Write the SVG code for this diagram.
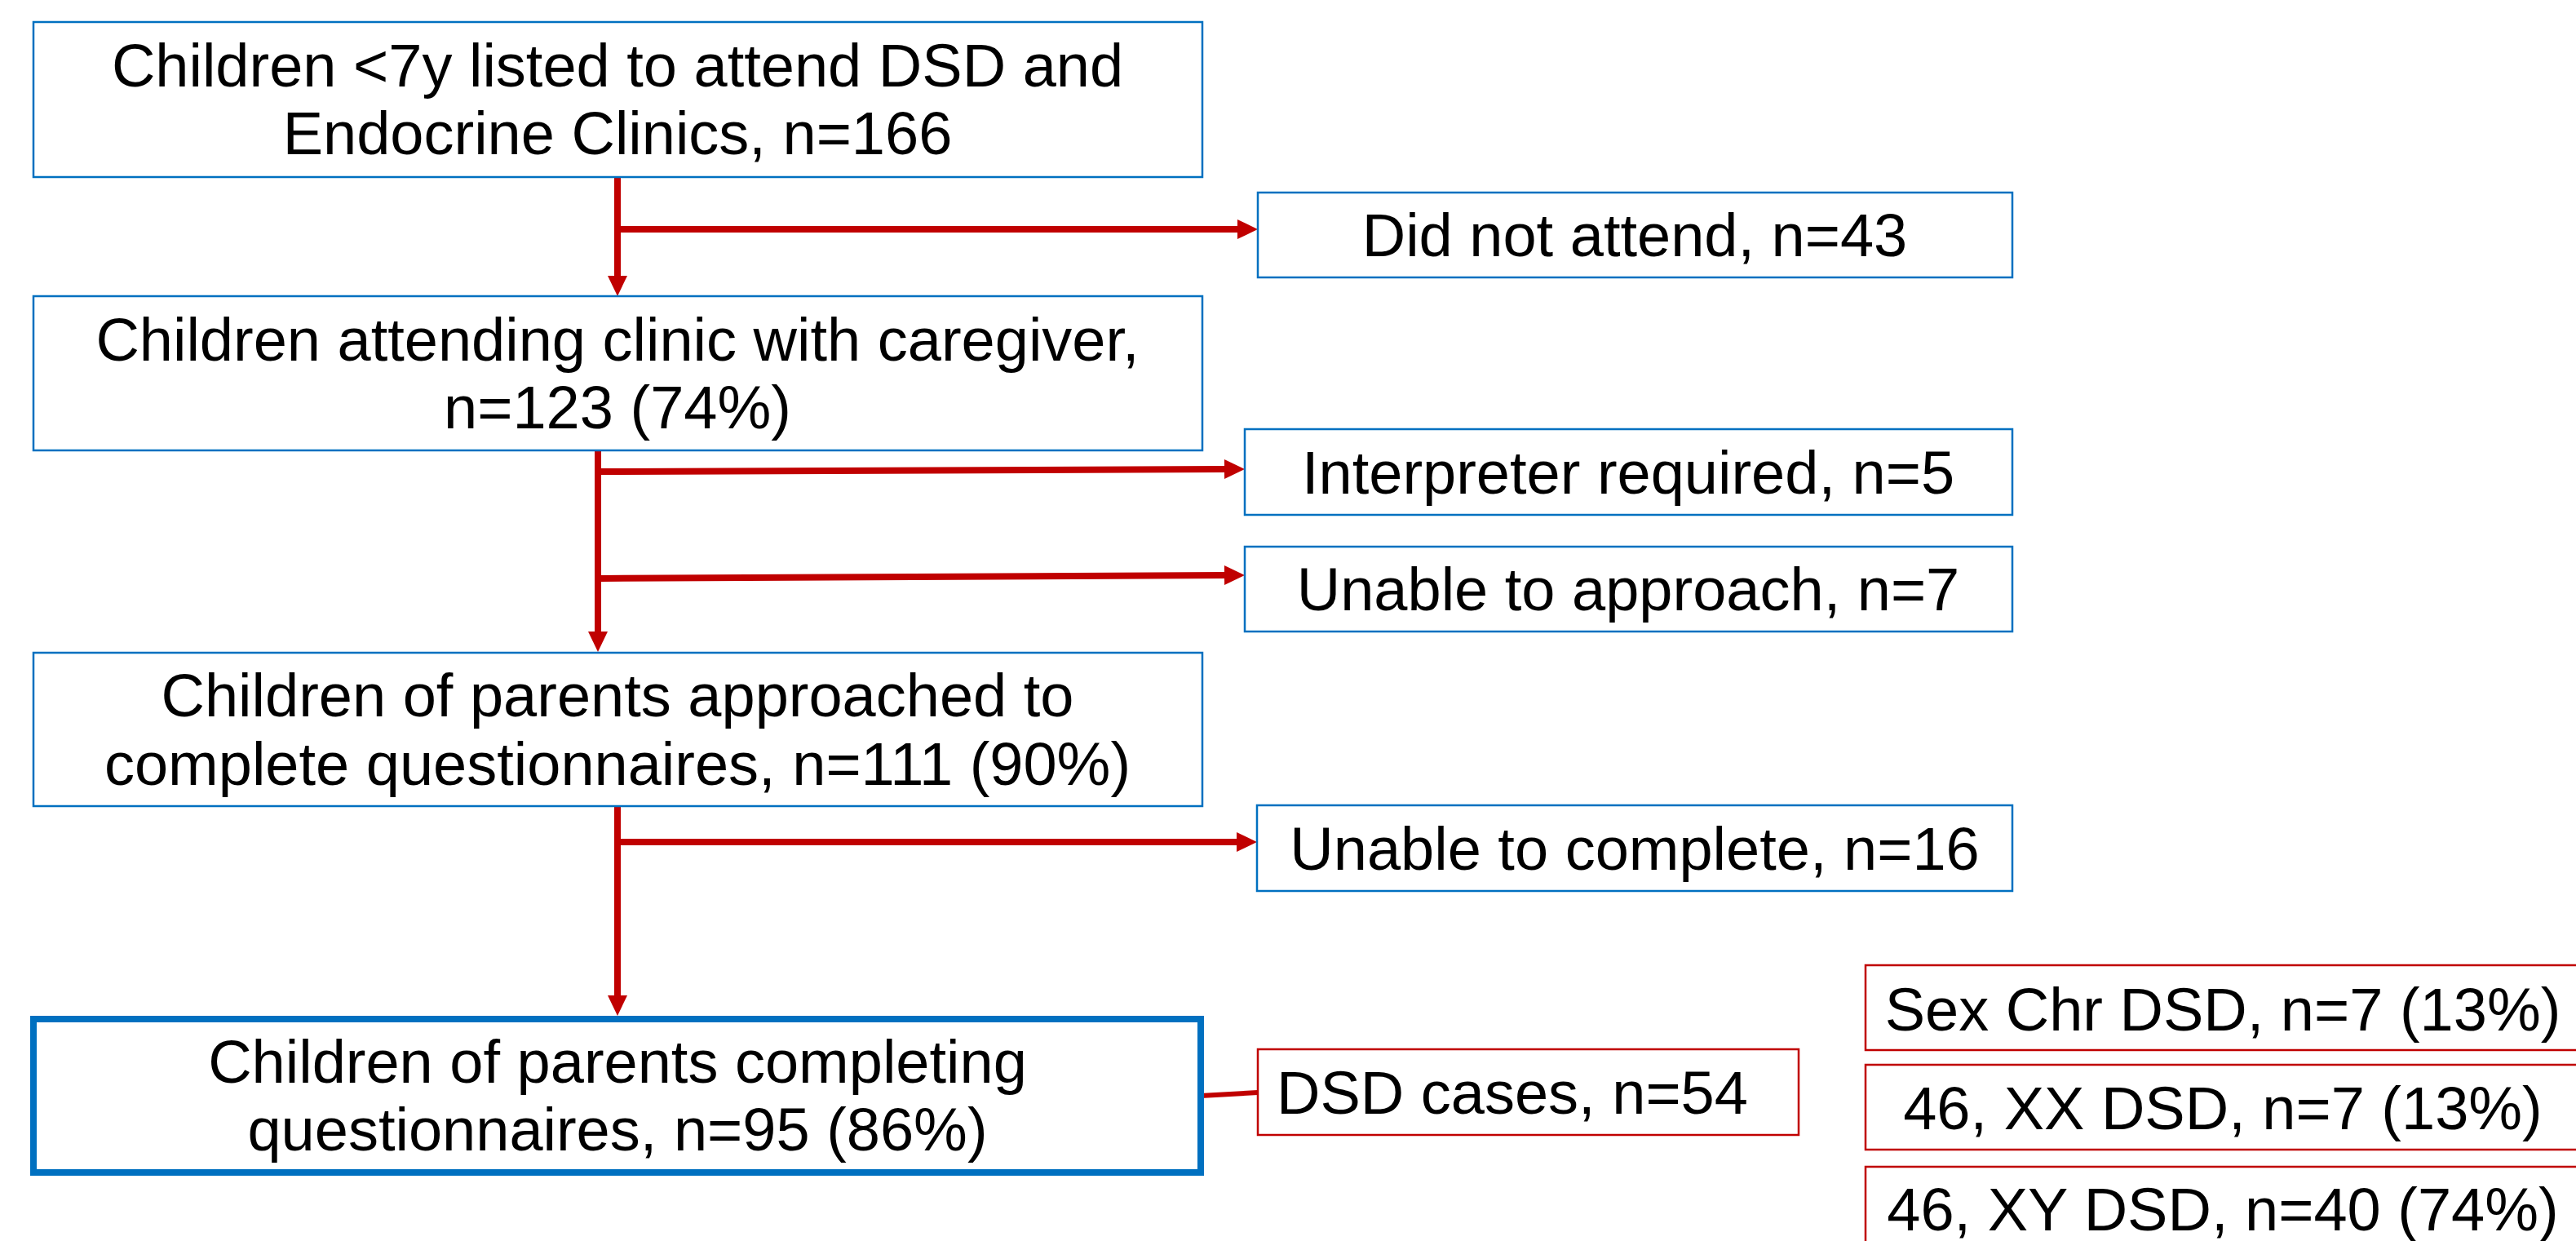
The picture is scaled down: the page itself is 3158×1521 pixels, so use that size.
<svg xmlns="http://www.w3.org/2000/svg" width="3158" height="1521" viewBox="0 0 3158 1521">
<style>
.bb{fill:#fff;stroke:#0070C0;stroke-width:2.5}
.bk{fill:#fff;stroke:#0070C0;stroke-width:8}
.rb{fill:#fff;stroke:#C00000;stroke-width:2.5}
.t{font-family:"Liberation Sans",Arial,sans-serif;font-size:74px;fill:#000;text-anchor:middle}
.c{stroke:#C00000;stroke-width:8;fill:none}
</style>
<defs>
<marker id="ah" markerUnits="userSpaceOnUse" markerWidth="25" markerHeight="24" refX="2" refY="12" orient="auto" overflow="visible">
<path d="M0,0 L25,12 L0,24 z" fill="#C00000"/>
</marker>
</defs>
<rect width="3158" height="1521" fill="#fff"/>
<g id="connectors">
<line class="c" x1="757" y1="217" x2="757" y2="340" marker-end="url(#ah)"/>
<line class="c" x1="757" y1="281" x2="1519" y2="281" marker-end="url(#ah)"/>
<line class="c" x1="733" y1="552" x2="733" y2="776" marker-end="url(#ah)"/>
<line class="c" x1="737" y1="578" x2="1503" y2="575" marker-end="url(#ah)"/>
<line class="c" x1="737" y1="709" x2="1503" y2="705" marker-end="url(#ah)"/>
<line class="c" x1="757" y1="988" x2="757" y2="1222" marker-end="url(#ah)"/>
<line class="c" x1="757" y1="1032" x2="1518" y2="1032" marker-end="url(#ah)"/>
<line stroke="#C00000" stroke-width="6" x1="1472" y1="1343" x2="1542" y2="1339"/>
</g>
<g id="n1">
<rect class="bb" x="41" y="27" width="1433" height="190"/>
<text class="t" x="757" y="106">Children &lt;7y listed to attend DSD and</text>
<text class="t" x="757" y="189">Endocrine Clinics, n=166</text>
</g>
<g id="n2">
<rect class="bb" x="1542" y="236" width="925" height="104"/>
<text class="t" x="2004" y="314">Did not attend, n=43</text>
</g>
<g id="n3">
<rect class="bb" x="41" y="363" width="1433" height="189"/>
<text class="t" x="757" y="442">Children attending clinic with caregiver,</text>
<text class="t" x="757" y="525">n=123 (74%)</text>
</g>
<g id="n4">
<rect class="bb" x="1526" y="526" width="941" height="105"/>
<text class="t" x="1996" y="605">Interpreter required, n=5</text>
</g>
<g id="n5">
<rect class="bb" x="1526" y="670" width="941" height="104"/>
<text class="t" x="1996" y="748">Unable to approach, n=7</text>
</g>
<g id="n6">
<rect class="bb" x="41" y="800" width="1433" height="188"/>
<text class="t" x="757" y="878">Children of parents approached to</text>
<text class="t" x="757" y="962">complete questionnaires, n=111 (90%)</text>
</g>
<g id="n7">
<rect class="bb" x="1541" y="987" width="926" height="105"/>
<text class="t" x="2004" y="1066">Unable to complete, n=16</text>
</g>
<g id="n8">
<rect class="bk" x="41" y="1249" width="1431" height="188"/>
<text class="t" x="757" y="1327">Children of parents completing</text>
<text class="t" x="757" y="1410">questionnaires, n=95 (86%)</text>
</g>
<g id="n9">
<rect class="rb" x="1542" y="1286" width="663" height="105"/>
<text class="t" x="1565" y="1365" style="text-anchor:start">DSD cases, n=54</text>
</g>
<g id="n10">
<rect class="rb" x="2287" y="1183" width="877" height="104"/>
<text class="t" x="2725" y="1263">Sex Chr DSD, n=7 (13%)</text>
</g>
<g id="n11">
<rect class="rb" x="2287" y="1305" width="877" height="104"/>
<text class="t" x="2725" y="1384">46, XX DSD, n=7 (13%)</text>
</g>
<g id="n12">
<rect class="rb" x="2287" y="1430" width="877" height="104"/>
<text class="t" x="2725" y="1508">46, XY DSD, n=40 (74%)</text>
</g>
</svg>
